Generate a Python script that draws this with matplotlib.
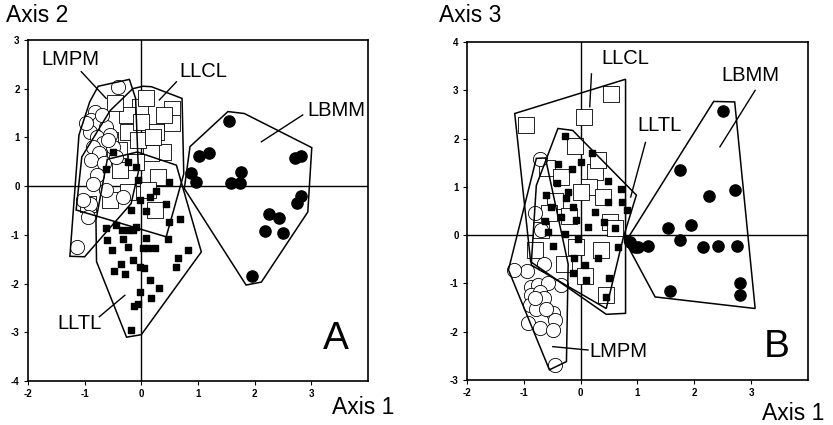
import matplotlib
matplotlib.use("Agg")
import matplotlib.pyplot as plt
from matplotlib.patches import Polygon

plt.rcParams['font.family'] = ['Liberation Sans', 'DejaVu Sans']

# ---------------- Panel A data (Axis 1 vs Axis 2) ----------------
a_lbmm_x = [1.55, 1.02, 1.19, 0.88, 0.96, 1.58, 1.74, 1.76, 2.71, 2.82, 2.82, 2.75, 2.25, 2.44, 2.18, 2.50, 1.95]
a_lbmm_y = [1.34, 0.62, 0.69, 0.26, 0.09, 0.07, 0.07, 0.29, 0.57, 0.62, -0.21, -0.34, -0.58, -0.66, -0.92, -0.97, -1.85]

a_lmpm_x = [-0.41, -0.82, -0.88, -0.74, -0.62, -0.91, -0.79, -0.56, -0.68, -0.85, -0.74, -0.50, -0.88, -0.65,
            -0.79, -0.85, -0.62, -0.91, -0.32, -0.94, -1.13, -1.03, -0.44, -0.70, -0.58, -0.97]
a_lmpm_y = [2.03, 1.53, 1.36, 1.29, 1.22, 1.12, 1.01, 1.05, 0.88, 0.81, 0.67, 0.81, 0.53, 0.47,
            0.23, 0.05, -0.08, -0.36, -0.23, -0.63, -1.25, -0.29, 0.60, 1.45, 0.95, 1.30]

a_llcl_x = [0.55, 0.55, 0.26, 0.38, -0.03, -0.26, -0.24, -0.47, 0.09, -0.38, 0.29, 0.24, 0.12, -0.94, -0.56,
            -0.24, 0.18, -0.06, 0.00, -0.74, -0.56, 0.40, -0.10, -0.40, 0.20]
a_llcl_y = [1.58, 1.29, 1.12, 0.71, 1.63, 1.46, 1.12, 1.70, 1.80, 0.33, 0.19, -0.49, -0.08, -0.36, -0.29,
            -0.12, 0.67, 0.95, 1.32, 0.71, 0.95, 1.45, 0.50, 0.75, 1.00]

a_lltl_x = [-0.63, -0.61, -0.51, -0.44, -0.34, -0.32, -0.24, -0.24, -0.15, -0.09, -0.18, -0.03, -0.09, -0.06,
            0.09, 0.03, 0.12, 0.25, 0.47, 0.49, 0.69, 0.82, 0.64, 0.61, -0.48, -0.35, -0.28, -0.15, -0.03,
            0.04, 0.15, 0.31, 0.18, -0.03, -0.06, -0.12, -0.18, 0.15, 0.26, 0.44, 0.08, 0.49, -0.50, -0.24, -0.62]
a_lltl_y = [-0.86, -1.11, -1.32, -0.80, -0.90, -1.08, -1.25, -0.90, -0.90, -0.84, -0.48, -0.29, 0.40, 0.12,
            -1.06, -1.28, -1.28, -1.28, -1.08, -0.73, -0.68, -1.32, -1.47, -1.67, -1.74, -1.59, -1.81, -1.52, -1.66,
            -1.69, -1.92, -2.10, -2.29, -2.17, -2.41, -2.47, -2.96, -0.22, -0.10, -0.37, -0.51, 0.09, 0.70, 0.50, 0.36]

a_hull_lbmm = [(0.86, 0.81), (1.53, 1.53), (1.82, 1.49), (3.01, 0.79), (2.94, -0.53), (2.12, -1.97), (1.85, -2.03), (0.76, -0.05)]
a_hull_lmpm = [(-0.76, 2.05), (-0.21, 2.19), (-0.10, 1.80), (-0.05, 0.30), (-0.18, -0.36), (-1.00, -1.45),
               (-1.26, -1.44), (-1.10, 1.05), (-0.91, 1.73)]
a_hull_llcl = [(-0.15, 2.00), (0.03, 2.05), (0.18, 2.04), (0.72, 1.80), (0.75, 0.25), (0.44, -1.04),
               (-1.15, -0.49), (-1.05, 0.60), (-0.55, 1.55)]
a_hull_lltl = [(-0.79, -1.55), (-0.26, -3.10), (0.00, -3.05), (1.06, -1.35), (0.62, 0.43), (-0.07, 0.70),
               (-0.60, 0.55), (-0.80, -0.70)]

# ---------------- Panel B data (Axis 1 vs Axis 3) ----------------
b_lbmm_x = [2.51, 1.74, 2.25, 2.72, 1.54, 1.94, 1.74, 2.16, 2.42, 2.75, 1.19, 1.01, 0.86, 0.95, 1.57, 2.81, 2.81]
b_lbmm_y = [2.57, 1.36, 0.81, 0.93, 0.14, 0.22, -0.10, -0.24, -0.22, -0.22, -0.22, -0.24, -0.14, -0.24, -1.16, -1.00, -1.23]

b_lmpm_x = [-0.94, -0.65, -0.34, -0.46, -0.72, -0.87, -0.75, -0.58, -0.87, -0.72, -0.64, -0.90, -0.78, -0.49,
            -0.46, -0.93, -0.72, -0.49, -0.81, -0.61, -1.17, -0.80, -0.70]
b_lmpm_y = [-0.74, -0.59, -1.03, -2.69, 1.57, -1.07, -1.03, -1.00, -1.24, -1.17, -1.31, -1.45, -1.52, -1.62,
            -1.76, -1.83, -1.93, -1.97, -1.31, -1.52, -0.72, 0.45, 0.10]

b_llcl_x = [0.54, 0.06, -0.96, 0.07, 0.45, 0.51, -0.81, -0.08, 0.35, 0.25, -0.60, -0.35, -0.10, 0.15, -0.45,
            -0.20, 0.40, 0.60, -0.70, -0.30, 0.30, -0.55, 0.00]
b_llcl_y = [2.93, 2.45, 2.28, -0.84, -1.24, 0.28, -0.31, -0.25, -0.30, 1.30, 1.40, 1.20, 1.85, 1.00, 0.70,
            0.40, 0.80, 0.15, 0.10, -0.60, 1.55, 0.45, 0.90]

b_lltl_x = [-0.28, 0.20, 0.00, -0.40, -0.16, 0.48, 0.71, -0.41, -0.61, -0.25, -0.14, 0.25, 0.48, 0.82, -0.62,
            -0.34, -0.08, 0.13, 0.41, 0.60, -0.58, -0.28, -0.05, -0.49, 0.65, -0.11, 0.07, 0.31, -0.14, 0.10,
            0.49, 0.45, 0.81, 0.72, -0.22, -0.52]
b_lltl_y = [2.06, 1.71, 1.52, 1.48, 1.38, 1.12, 0.95, 1.07, 0.84, 0.76, 0.59, 0.48, 0.69, 0.52, 0.29,
            0.38, 0.31, 0.17, 0.28, 0.15, 0.07, 0.03, -0.07, -0.22, -0.24, -0.48, -0.62, -0.48, -0.79, -0.93,
            -0.88, -1.28, -0.07, 0.69, 0.90, 0.59]

b_hull_lbmm = [(0.79, -0.14), (2.34, 2.77), (2.71, 2.76), (3.07, -1.52), (1.31, -1.28)]
b_hull_llcl = [(-1.16, 2.52), (0.79, 3.23), (0.79, -1.62), (0.45, -1.64), (-0.88, -0.55)]
b_hull_lltl = [(-0.40, 2.21), (-0.14, 2.17), (0.98, 0.83), (0.75, -0.05), (0.45, -1.52), (-0.87, -0.62), (-0.78, 1.03)]
b_hull_lmpm = [(-1.27, -0.72), (-0.78, 1.59), (-0.62, 1.60), (-0.22, -0.60), (-0.25, -2.62), (-0.55, -2.79)]

x_ticks = [-2, -1, 0, 1, 2, 3]
a_y_ticks = [-4, -3, -2, -1, 0, 1, 2, 3]
b_y_ticks = [-3, -2, -1, 0, 1, 2, 3, 4]

fig = plt.figure(figsize=(8.33, 4.25), dpi=100)
axA = fig.add_axes([0.0336, 0.1035, 0.408, 0.8025])
axB = fig.add_axes([0.5606, 0.106, 0.4094, 0.795])


def draw(ax, lbmm, lmpm, llcl, lltl, hulls, ylim, yticks):
    ax.set_xlim(-2, 4)
    ax.set_ylim(*ylim)
    ax.axhline(0, color='black', lw=1.0, zorder=1)
    ax.axvline(0, color='black', lw=1.0, zorder=1)
    for h in hulls:
        ax.add_patch(Polygon(h, closed=True, fill=False, ec='black', lw=1.1, zorder=4))
    ax.scatter(llcl[0], llcl[1], s=140, marker='s', facecolors='white', edgecolors='black', linewidths=0.6, zorder=2)
    ax.scatter(lmpm[0], lmpm[1], s=105, marker='o', facecolors='white', edgecolors='black', linewidths=0.6, zorder=2)
    ax.scatter(lltl[0], lltl[1], s=24, marker='s', color='black', zorder=3)
    ax.scatter(lbmm[0], lbmm[1], s=65, marker='o', color='black', zorder=3)
    ax.set_xticks(x_ticks)
    ax.set_xticklabels([str(t) for t in x_ticks])
    ax.set_yticks(yticks)
    ax.set_yticklabels([str(t) for t in yticks])
    ax.tick_params(direction='out', length=3, width=0.8, labelsize=7, pad=3)
    for lab in ax.get_xticklabels() + ax.get_yticklabels():
        lab.set_fontweight('bold')
    for sp in ax.spines.values():
        sp.set_linewidth(1.2)


def label(ax, text, xy, line):
    ax.text(xy[0], xy[1], text, fontsize=14.5, ha='center', va='center', zorder=5)
    ax.plot([line[0][0], line[1][0]], [line[0][1], line[1][1]], color='black', lw=1.0, zorder=5)


draw(axA, (a_lbmm_x, a_lbmm_y), (a_lmpm_x, a_lmpm_y), (a_llcl_x, a_llcl_y), (a_lltl_x, a_lltl_y),
     [a_hull_lbmm, a_hull_lmpm, a_hull_llcl, a_hull_lltl], (-4, 3), a_y_ticks)
label(axA, 'LMPM', (-1.26, 2.6), [(-1.06, 2.35), (-0.62, 1.80)])
label(axA, 'LLCL', (1.09, 2.35), [(0.62, 2.14), (0.32, 1.77)])
label(axA, 'LBMM', (3.45, 1.56), [(2.85, 1.46), (2.12, 0.91)])
label(axA, 'LLTL', (-1.09, -2.82), [(-0.74, -2.68), (-0.29, -2.24)])
axA.text(3.44, -3.13, 'A', fontsize=28, ha='center', va='center')

draw(axB, (b_lbmm_x, b_lbmm_y), (b_lmpm_x, b_lmpm_y), (b_llcl_x, b_llcl_y), (b_lltl_x, b_lltl_y),
     [b_hull_lbmm, b_hull_llcl, b_hull_lltl, b_hull_lmpm], (-3, 4), b_y_ticks)
label(axB, 'LLCL', (0.78, 3.66), [(0.19, 3.34), (0.16, 2.66)])
label(axB, 'LBMM', (2.99, 3.30), [(3.07, 3.00), (2.45, 1.83)])
label(axB, 'LLTL', (1.38, 2.28), [(1.14, 1.92), (0.88, 0.79)])
label(axB, 'LMPM', (0.66, -2.41), [(0.13, -2.38), (-0.49, -2.31)])
axB.text(3.45, -2.31, 'B', fontsize=28, ha='center', va='center')

fig.text(6 / 833, 1 - 16 / 425, 'Axis 2', fontsize=16.5, ha='left', va='center')
fig.text(439 / 833, 1 - 16 / 425, 'Axis 3', fontsize=16.5, ha='left', va='center')
fig.text(332 / 833, 1 - 408 / 425, 'Axis 1', fontsize=16.5, ha='left', va='center')
fig.text(762 / 833, 1 - 414 / 425, 'Axis 1', fontsize=16.5, ha='left', va='center')

fig.savefig('out.png', dpi=100)
